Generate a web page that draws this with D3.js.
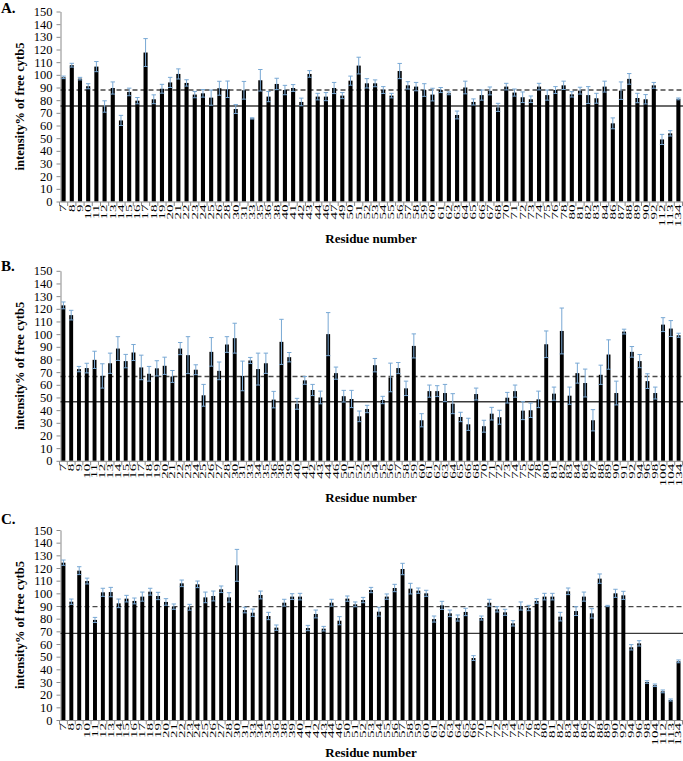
<!DOCTYPE html>
<html>
<head>
<meta charset="utf-8">
<script src="https://cdn.jsdelivr.net/npm/d3@7"></script>
<style>
  body { margin: 0; background: #fff; }
  svg { display: block; }
  svg text { font-family: "Liberation Serif", "Times New Roman", serif !important; }
</style>
</head>
<body>
<svg id="chart" width="683" height="761"></svg>
<script>
// ---------- DATA ----------
const yTicks = [0,10,20,30,40,50,60,70,80,90,100,110,120,130,140,150];

const residuesA = [7,8,9,10,11,12,13,14,15,16,17,18,19,20,21,22,23,24,25,26,28,30,31,33,35,36,38,40,41,42,43,44,46,47,49,50,51,52,53,54,55,56,57,58,59,60,61,62,63,64,65,66,67,68,70,71,72,73,74,75,76,78,80,81,82,83,84,86,87,88,89,90,92,112,113,134];
const valuesA = [98,107.6,97,91,106.5,75,89.6,64,86.5,79.6,117.6,80.7,89,94,100.7,93.6,84.4,85.4,82,89.4,88.6,73,87.8,65.6,95.7,82.8,92.8,88,89.6,78.6,100.7,82.8,82.8,89.6,83.6,95.4,107.3,93.3,93.3,88,83.6,103,91.7,90.7,88,84.4,88,85.4,68.3,90,78.6,84,87.3,74.3,90.7,86,82.3,80.7,90.7,84,88,91.7,84.6,87.5,84,81.5,90.7,61.7,87.5,96.8,81.7,80.7,91.7,49,53.8,81];
const errorsA = [1,1.5,1,2,4,4.5,4.8,4,3,2.5,11,3.5,3.5,4,4,2.5,2.5,3,6,5.5,6.5,3.5,7,0.5,8.5,4,4.5,3.7,2.7,3,2.6,2.6,3.2,4.4,2.4,3.6,6.6,3.7,2.7,2.7,1.8,6,2.9,3.3,5,5,2,1.1,3.1,5,2.4,4,3.1,3.2,2.6,2.8,4.2,2.6,2.6,4,2.7,3.3,2.1,2.7,6.7,3.9,4.3,4.3,6.9,4.2,3.7,3.7,2.3,4,2.1,0.7];
const dashedA = 88;
const solidA = 75.4;

const residuesB = [7,8,9,10,11,12,13,14,15,16,17,18,19,20,21,22,23,24,25,26,27,28,30,31,33,34,35,36,38,39,40,41,42,43,44,46,50,51,52,53,54,55,56,57,58,59,60,61,62,63,64,65,66,68,70,71,72,73,74,75,76,78,80,81,82,83,84,86,87,88,89,90,91,92,94,96,98,100,104,134];
const valuesB = [122.7,115,72.4,73.2,79.7,67,77,88.6,78.7,85.5,73.7,68.7,73,75,66.6,88.6,83.4,71.9,51.7,86,71,91.8,96.8,67,79.2,72.4,77,48.3,93.9,81.8,45,63.5,55.9,50,100,69.2,51,48.8,35.1,40.9,75.5,48,65.8,73.2,57.2,90.7,32,55,55,53.5,45.1,34.6,28.8,52.7,27.3,37.2,34.4,49.8,55,39.6,39.9,48.5,92,53,102.5,51.4,69.2,61.4,32,67.9,83.9,53.5,102,86,78.7,62.9,53.5,107.5,104.4,99.1];
const errorsB = [2.7,3.8,2.1,3.8,6.8,9.6,8,9.4,5.3,6.3,9.7,5.8,6,6.8,4.7,4.8,14.6,3.9,8.6,11.3,7,6.2,11.8,11.7,2.4,12.6,8,6.5,17.8,3.7,4.3,3.1,4.4,5,17,4.8,4.6,6.8,4.2,2.9,5.3,2.9,11.3,4.4,5.7,9.5,5.2,4.8,4.3,6.8,7.9,3.7,4.8,4.7,4.7,5,5.5,4.2,4.8,7.1,5.7,6.5,10.5,5.2,18.1,6.8,7.9,11,8.4,7.6,11.6,9.4,1.9,4.2,5.2,5.8,4.7,5.5,6.3,1.6];
const dashedB = 66.6;
const solidB = 46.6;

const residuesC = [7,8,9,10,11,12,13,14,15,16,17,18,19,20,21,22,23,24,25,26,27,28,30,31,33,34,35,36,38,39,40,41,42,43,44,46,50,51,52,53,54,55,56,57,58,59,60,61,62,63,64,65,66,70,71,72,73,74,75,76,78,80,81,82,83,84,86,87,88,89,90,92,94,96,98,104,112,113,134];
const valuesC = [124.2,93.4,117.9,109.7,79,100.8,101,92.1,95.8,94,97.4,101.3,97.9,93.2,89.5,107.9,89,107.1,96.8,97.9,103.2,96.8,122.1,86.8,84.7,98.7,82.1,72.9,92.6,97.4,97.4,72.6,83.7,72.1,92.6,78.4,95.8,91.3,94.7,102.6,85.5,97.4,104.2,119.2,103.7,102.1,100,79.7,90.5,84.2,80.5,85.3,48.9,80.5,92.6,87.4,85,76.3,90,88.4,94,97.4,97.4,81.6,101.6,86,97.4,84.2,111.6,90,100,98.4,57.4,60.5,30,27.4,22.6,15.8,46.3];
const errorsC = [2.1,2.1,3.1,2.3,2,3.2,3.7,3.4,2.6,2.3,3.6,2.7,2.9,2.6,2.1,2.6,2.3,2.6,4.2,3.9,2.6,3.7,12.6,2.2,2.9,3.1,2.9,2.1,2.7,2.3,2.6,2.1,3.1,1.8,2.7,3.2,2.1,1.9,2.1,2.1,3.5,2.1,2.9,4.5,4.2,2.1,2.4,2.4,3.2,2.6,2.4,2.9,1.9,1.6,2.7,2.1,2.4,2.1,3.2,2.1,1.8,2.6,2.6,3.4,2.6,3.5,3.6,3.7,3.7,0.5,3.2,3.2,2.1,2.1,1,1,1.1,0.8,1.1];
const dashedC = 89.5;
const solidC = 68.4;

const panelLetters = ["A.", "B.", "C."];
const yTitle = "intensity% of free cytb5";
const xTitle = "Residue number";

// ---------- DRAW ----------
const FONT = "'Liberation Serif', 'Times New Roman', serif";
const svg = d3.select("#chart");
svg.append("rect").attr("width", 683).attr("height", 761).attr("fill", "#fff");

const axisColor = "#8a8a8a";
const errColor = "#78a8d4";
const lineColor = "#3a3a3a";

function drawPanel(cfg) {
  const g = svg.append("g").style("font-family", FONT);
  const top = cfg.top, h = 190;
  const y = d3.scaleLinear().domain([0, 150]).range([top + h, top]);
  const x = d3.scaleBand()
    .domain(cfg.residues.map(String))
    .range([59.5, 682.5])
    .paddingInner(0.5)
    .paddingOuter(0.25);
  const step = x.step();
  const y0 = y(0);

  // panel letter
  g.append("text").attr("x", 1).attr("y", cfg.letterY)
    .style("font-family", FONT)
    .attr("font-size", 15).attr("font-weight", "bold").text(cfg.letter);

  // y axis
  const yAxis = d3.axisLeft(y).tickValues(yTicks).tickSize(4).tickSizeOuter(0).tickPadding(4);
  const ya = g.append("g").attr("transform", "translate(60.5,0)").call(yAxis);
  ya.attr("font-family", null);
  ya.select(".domain").attr("stroke", axisColor);
  ya.selectAll(".tick line").attr("stroke", axisColor);
  ya.selectAll(".tick text").attr("font-size", 12.5).attr("fill", "#000")
    .style("font-family", FONT);

  // y title
  g.append("text")
    .attr("transform", `translate(24,${top + h / 2}) rotate(-90)`)
    .attr("text-anchor", "middle")
    .style("font-family", FONT)
    .attr("font-size", 12.5).attr("font-weight", "bold")
    .text(yTitle);

  // reference lines
  g.append("line").attr("x1", 60.5).attr("x2", 683)
    .attr("y1", y(cfg.dashed)).attr("y2", y(cfg.dashed))
    .attr("stroke", "#4a4a4a").attr("stroke-width", 1.4).attr("stroke-dasharray", "5,3");
  g.append("line").attr("x1", 60.5).attr("x2", 683)
    .attr("y1", y(cfg.solid)).attr("y2", y(cfg.solid))
    .attr("stroke", lineColor).attr("stroke-width", 1.3);

  // bars
  const data = cfg.residues.map((r, i) => ({ r: String(r), v: cfg.values[i], e: cfg.errors[i] }));
  g.selectAll("rect.bar").data(data).enter().append("rect")
    .attr("class", "bar")
    .attr("x", d => x(d.r))
    .attr("width", x.bandwidth())
    .attr("y", d => y(d.v))
    .attr("height", d => y0 - y(d.v))
    .attr("fill", "#000");

  // error bars
  const eg = g.append("g").attr("stroke", errColor).attr("stroke-width", 1);
  data.forEach(d => {
    const cx = x(d.r) + x.bandwidth() / 2;
    const yt = y(d.v + d.e), yb = y(d.v - d.e);
    eg.append("line").attr("x1", cx).attr("x2", cx).attr("y1", yt).attr("y2", yb);
    eg.append("line").attr("x1", cx - 2.2).attr("x2", cx + 2.2).attr("y1", yt).attr("y2", yt);
    eg.append("line").attr("x1", cx - 2.2).attr("x2", cx + 2.2).attr("y1", yb).attr("y2", yb);
  });

  // x axis line and ticks between categories
  g.append("line").attr("x1", 60.5).attr("x2", 683).attr("y1", y0 + 0.5).attr("y2", y0 + 0.5)
    .attr("stroke", axisColor);
  const bounds = d3.range(cfg.residues.length + 1).map(i => 59.5 + i * step);
  g.selectAll("line.xt").data(bounds).enter().append("line")
    .attr("class", "xt")
    .attr("x1", d => d).attr("x2", d => d)
    .attr("y1", y0 + 0.5).attr("y2", y0 + 4.5)
    .attr("stroke", axisColor);

  // x tick labels (rotated)
  g.selectAll("text.xl").data(data).enter().append("text")
    .attr("class", "xl")
    .attr("transform", d => `translate(${x(d.r) + x.bandwidth() / 2},${y0 + 3}) scale(0.55,1) rotate(-90)`)
    .attr("text-anchor", "end")
    .attr("dy", "0.35em")
    .style("font-family", FONT)
    .attr("font-size", 15)
    .text(d => d.r);

  // x title
  g.append("text").attr("x", 371).attr("y", Math.min(y0 + 41, 757))
    .attr("text-anchor", "middle")
    .style("font-family", FONT)
    .attr("font-size", 13).attr("font-weight", "bold")
    .text(xTitle);
}

drawPanel({ residues: residuesA, values: valuesA, errors: errorsA, dashed: dashedA, solid: solidA, top: 11.5, letter: panelLetters[0], letterY: 13 });
drawPanel({ residues: residuesB, values: valuesB, errors: errorsB, dashed: dashedB, solid: solidB, top: 270.8, letter: panelLetters[1], letterY: 271 });
drawPanel({ residues: residuesC, values: valuesC, errors: errorsC, dashed: dashedC, solid: solidC, top: 530, letter: panelLetters[2], letterY: 524 });
</script>
</body>
</html>
